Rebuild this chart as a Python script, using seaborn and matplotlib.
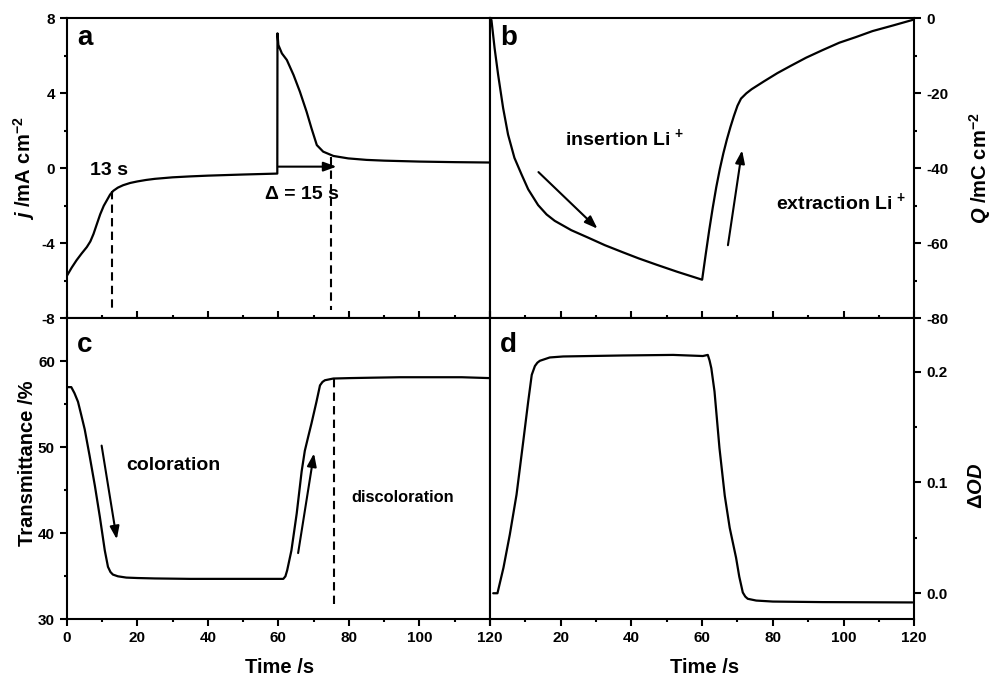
import numpy as np
import pandas as pd
import matplotlib
matplotlib.use("Agg")
import matplotlib.pyplot as plt
import seaborn as sns
from matplotlib.ticker import MultipleLocator, FormatStrFormatter

# ---------------- data ----------------
# (a) current density j vs time
t_a = [0, 1.4, 2.8, 4.2, 5.7, 6.7, 7.6, 8.5, 9.5, 10.5, 11.4, 12.3, 13.2, 14.5, 16, 18, 20, 22.5,
       25, 30, 35, 40, 50, 59.7,
       59.75, 60.0, 61.0, 62.4, 64.3, 66.1, 68.0, 69.4, 70.9, 72.7, 75.6, 79.8, 85, 90, 100, 110, 120]
j_a = [-5.75, -5.3, -4.9, -4.55, -4.2, -3.9, -3.5, -3.0, -2.45, -2.0, -1.7, -1.4, -1.2, -1.03, -0.9,
       -0.78, -0.7, -0.62, -0.56, -0.48, -0.43, -0.39, -0.33, -0.28,
       7.2, 6.58, 6.13, 5.78, 4.98, 4.09, 3.02, 2.13, 1.24, 0.89, 0.66, 0.53, 0.45, 0.41, 0.36, 0.33, 0.31]

# (b) charge density Q vs time
t_b = [0, 0.4, 1.3, 2.3, 3.7, 5.1, 6.9, 8.9, 10.8, 13.6, 16, 18.3, 23.0, 27.8, 32.5, 37.6, 42, 47.1,
       53, 60.0, 61.0, 62.0, 63.0, 64.0, 65.0, 66.0, 67.0, 68.0, 69.0, 70.0, 71.0, 72.5, 74.0, 77.5,
       81.3, 85, 89.4, 94, 98.8, 103.5, 108.2, 114, 120]
Q_b = [0, -0.45, -8.0, -15.1, -23.9, -31.0, -37.2, -41.6, -45.6, -49.8, -52.3, -54.0, -56.5, -58.5,
       -60.5, -62.4, -64.0, -65.7, -67.6, -69.7, -63.0, -56.5, -50.5, -45.0, -40.2, -36.0, -32.3,
       -29.0, -26.0, -23.3, -21.4, -20.0, -18.9, -16.8, -14.6, -12.7, -10.5, -8.5, -6.5, -5.0, -3.4,
       -1.9, -0.3]

# (c) transmittance vs time
t_c = [0.3, 1.3, 2.2, 3.2, 4.1, 5.1, 6.5, 8.0, 9.4, 10.8, 11.7, 12.4, 13.1, 14.5, 16.9, 20, 25, 35,
       45, 55, 61.4, 62.0, 62.5, 63.7, 65.2, 66.6, 67.5, 68.5, 69.4, 70.8, 71.8, 72.5, 73.2, 75.6, 80.3,
       87, 94.5, 105, 112, 119.8]
T_c = [57.0, 57.0, 56.3, 55.3, 53.8, 52.1, 49.0, 45.5, 41.9, 38.0, 36.1, 35.5, 35.2, 35.0, 34.85, 34.8,
       34.75, 34.7, 34.7, 34.7, 34.7, 35.0, 35.7, 38.0, 42.3, 47.2, 49.6, 51.3, 52.8, 55.3, 57.2, 57.6,
       57.8, 58.0, 58.05, 58.1, 58.15, 58.15, 58.15, 58.05]

# (d) optical density change vs time
t_d = [0.9, 2.1, 3.8, 5.6, 7.5, 9.4, 10.8, 11.8, 12.7, 13.4, 14.1, 16.9, 20.7, 37.6, 51.8, 60.2,
       61.6, 62.1, 62.6, 63.5, 64.9, 66.4, 67.8, 69.6, 70.5, 71.5, 72.2, 72.9, 75.3, 80.0, 94.1, 119.5]
OD_d = [0.0, 0.0, 0.023, 0.053, 0.089, 0.137, 0.173, 0.197, 0.205, 0.208, 0.2097, 0.2127, 0.2136,
        0.2145, 0.215, 0.214, 0.215, 0.210, 0.203, 0.182, 0.131, 0.088, 0.059, 0.032, 0.015, 0.0007,
        -0.003, -0.005, -0.0066, -0.0075, -0.008, -0.0083]

x_ticks = [0, 20, 40, 60, 80, 100, 120]
x_ticklabels_c = ["0", "20", "40", "60", "80", "100", "120"]
x_ticklabels_d = ["", "20", "40", "60", "80", "100", "120"]

# ---------------- style ----------------
sns.set_style("ticks")
plt.rcParams["font.family"] = ["Liberation Sans", "DejaVu Sans"]
plt.rcParams["font.weight"] = "bold"
plt.rcParams["axes.labelweight"] = "bold"
plt.rcParams["axes.unicode_minus"] = False
plt.rcParams["text.color"] = "black"
plt.rcParams["axes.labelcolor"] = "black"
plt.rcParams["axes.edgecolor"] = "black"
plt.rcParams["xtick.color"] = "black"
plt.rcParams["ytick.color"] = "black"
plt.rcParams["mathtext.fontset"] = "custom"
plt.rcParams["mathtext.rm"] = "Liberation Sans:bold"
plt.rcParams["mathtext.it"] = "Liberation Sans:italic:bold"
plt.rcParams["mathtext.bf"] = "Liberation Sans:bold"

fig = plt.figure(figsize=(9.97, 6.84), dpi=100)
L, M, R = 0.0669, 0.4915, 0.9170
B, H, T = 0.0946, 0.5346, 0.9732
ax_a = fig.add_axes([L, H, M - L, T - H])
ax_b = fig.add_axes([M, H, R - M, T - H])
ax_c = fig.add_axes([L, B, M - L, H - B])
ax_d = fig.add_axes([M, B, R - M, H - B])

LW = 1.6
kw = dict(color="black", linewidth=LW, sort=False, estimator=None)
sns.lineplot(data=pd.DataFrame({"t": t_a, "v": j_a}), x="t", y="v", ax=ax_a, **kw)
sns.lineplot(data=pd.DataFrame({"t": t_b, "v": Q_b}), x="t", y="v", ax=ax_b, **kw)
sns.lineplot(data=pd.DataFrame({"t": t_c, "v": T_c}), x="t", y="v", ax=ax_c, **kw)
sns.lineplot(data=pd.DataFrame({"t": t_d, "v": OD_d}), x="t", y="v", ax=ax_d, **kw)

for ax in (ax_a, ax_b, ax_c, ax_d):
    ax.set_xlim(0, 120)
    for s in ax.spines.values():
        s.set_linewidth(1.5)
        s.set_visible(True)
        s.set_color("black")
    ax.xaxis.set_major_locator(MultipleLocator(20))
    ax.xaxis.set_minor_locator(MultipleLocator(10))
    ax.tick_params(which="major", length=5, width=1.5, labelsize=11, direction="out", colors="black")
    ax.tick_params(which="minor", length=2.5, width=1.5, direction="out", colors="black")

ax_a.set_ylim(-8, 8)
ax_b.set_ylim(-80, 0)
ax_c.set_ylim(30, 65)
ax_d.set_ylim(-0.0235, 0.248)

ax_a.yaxis.set_major_locator(MultipleLocator(4))
ax_a.yaxis.set_minor_locator(MultipleLocator(2))
ax_b.yaxis.set_major_locator(MultipleLocator(20))
ax_b.yaxis.set_minor_locator(MultipleLocator(10))
ax_c.yaxis.set_major_locator(MultipleLocator(10))
ax_c.yaxis.set_minor_locator(MultipleLocator(5))
ax_d.yaxis.set_major_locator(MultipleLocator(0.1))
ax_d.yaxis.set_minor_locator(MultipleLocator(0.05))

for ax in (ax_a, ax_b):
    ax.tick_params(axis="x", which="both", bottom=False, top=False, labelbottom=False)
for ax in (ax_c, ax_d):
    ax.tick_params(axis="x", which="both", bottom=True, top=True, labelbottom=True, labeltop=False)
ax_c.set_xticks(x_ticks, x_ticklabels_c)
ax_d.set_xticks(x_ticks, x_ticklabels_d)

for ax in (ax_b, ax_d):
    ax.yaxis.tick_right()
    ax.yaxis.set_label_position("right")
    ax.tick_params(axis="y", which="both", left=False, right=True)
for ax in (ax_a, ax_c):
    ax.tick_params(axis="y", which="both", left=True, right=False)

ax_d.yaxis.set_major_formatter(FormatStrFormatter("%.1f"))

# labels
LFS = 14.5
ax_a.set_ylabel(r"$j$ /mA cm$^{-2}$", fontsize=LFS)
ax_b.set_ylabel(r"$Q$ /mC cm$^{-2}$", fontsize=LFS)
ax_c.set_ylabel("Transmittance /%", fontsize=LFS)
ax_d.set_ylabel(r"$\mathregular{\Delta}$$OD$", fontsize=LFS)
ax_a.set_xlabel("")
ax_b.set_xlabel("")
ax_c.set_xlabel("Time /s", fontsize=LFS)
ax_d.set_xlabel("Time /s", fontsize=LFS)
ax_a.yaxis.set_label_coords(-0.07, 0.5)
ax_c.yaxis.set_label_coords(-0.07, 0.52)
ax_b.yaxis.set_label_coords(1.125, 0.5)
ax_d.yaxis.set_label_coords(1.125, 0.443)
ax_c.xaxis.set_label_coords(0.503, -0.13)
ax_d.xaxis.set_label_coords(0.506, -0.13)

# panel letters
for ax, letter, yb in ((ax_a, "a", 0.911), (ax_b, "b", 0.911), (ax_c, "c", 0.889), (ax_d, "d", 0.889)):
    ax.text(0.024, yb, letter, transform=ax.transAxes, fontsize=20, fontweight="bold",
            ha="left", va="baseline")

arrow_kw = dict(arrowstyle="-|>,head_length=0.55,head_width=0.2", color="black", lw=1.5,
                mutation_scale=14, shrinkA=0, shrinkB=0)

# annotations panel a
dash = (0, (4, 2.5))
ax_a.plot([12.9, 12.9], [-1.2, -7.56], color="black", lw=1.5, linestyle=dash)
ax_a.plot([74.9, 74.9], [0.62, -7.56], color="black", lw=1.5, linestyle=dash)
ax_a.annotate("", xy=(76.5, 0.09), xytext=(60, 0.09), arrowprops=arrow_kw)
ax_a.text(6.6, -0.36, "13 s", fontsize=14, fontweight="bold", ha="left", va="baseline")
ax_a.text(56.2, -1.65, "Δ = 15 s", fontsize=14, fontweight="bold", ha="left", va="baseline")

# annotations panel b
ax_b.text(21.3, -33.9, r"insertion Li$^{\,+}$", fontsize=14, ha="left", va="baseline")
ax_b.text(80.8, -50.9, r"extraction Li$^{\,+}$", fontsize=14, ha="left", va="baseline")
ax_b.annotate("", xy=(30.4, -56.1), xytext=(13.7, -41.0), arrowprops=arrow_kw)
ax_b.annotate("", xy=(71.3, -35.2), xytext=(67.3, -60.5), arrowprops=arrow_kw)

# annotations panel c
ax_c.text(16.8, 47.4, "coloration", fontsize=14, fontweight="bold", ha="left", va="baseline")
ax_c.text(80.8, 43.6, "discoloration", fontsize=11.8, fontweight="bold", ha="left", va="baseline")
ax_c.annotate("", xy=(14.2, 39.3), xytext=(9.9, 50.2), arrowprops=arrow_kw)
ax_c.annotate("", xy=(70.1, 49.3), xytext=(65.6, 37.7), arrowprops=arrow_kw)
ax_c.plot([75.9, 75.9], [58.0, 31.5], color="black", lw=1.5, linestyle=dash)

fig.savefig("out.png", dpi=100)
